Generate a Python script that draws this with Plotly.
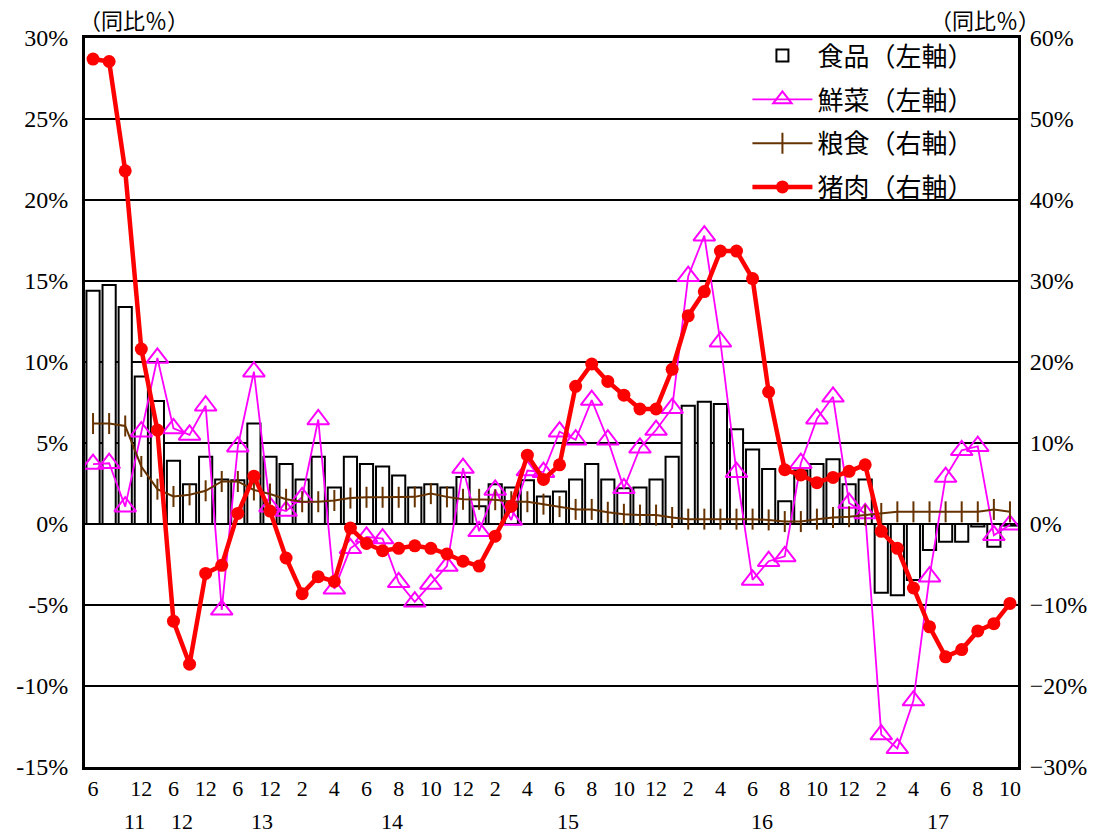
import plotly.graph_objects as go

categories = [
    "2011-06", "2011-08", "2011-10", "2011-12",
    "2012-03", "2012-06", "2012-09", "2012-12",
    "2013-03", "2013-06", "2013-09", "2013-12",
    "2014-01", "2014-02", "2014-03", "2014-04", "2014-05", "2014-06",
    "2014-07", "2014-08", "2014-09", "2014-10", "2014-11", "2014-12",
    "2015-01", "2015-02", "2015-03", "2015-04", "2015-05", "2015-06",
    "2015-07", "2015-08", "2015-09", "2015-10", "2015-11", "2015-12",
    "2016-01", "2016-02", "2016-03", "2016-04", "2016-05", "2016-06",
    "2016-07", "2016-08", "2016-09", "2016-10", "2016-11", "2016-12",
    "2017-01", "2017-02", "2017-03", "2017-04", "2017-05", "2017-06",
    "2017-07", "2017-08", "2017-09", "2017-10",
]

food = [14.4, 14.75, 13.4, 9.1, 7.6, 3.9, 2.45, 4.15, 2.75, 2.7, 6.2, 4.15,
        3.7, 2.75, 4.15, 2.25, 4.15, 3.7, 3.55, 3.0, 2.25, 2.45, 2.25, 2.9,
        1.1, 2.45, 2.25, 2.7, 1.7, 2.0, 2.75, 3.7, 2.75, 2.2, 2.25, 2.75,
        4.15, 7.3, 7.55, 7.4, 5.85, 4.6, 3.4, 1.4, 3.3, 3.7, 4.0, 2.45,
        2.75, -4.25, -4.4, -3.45, -1.6, -1.1, -1.1, -0.15, -1.4, -0.1]

vegetables = [3.7, 3.75, 1.07, 5.7, 10.25, 5.9, 5.5, 7.3, -5.3, 4.77, 9.4, 1.07,
              0.8, 1.65, 6.45, -4.0, -1.5, -0.8, -0.9, -3.6, -4.8, -3.7, -2.6, 3.45,
              -0.45, 2.1, 0.25, 3.3, 3.2, 5.7, 5.2, 7.65, 5.2, 2.2, 4.7, 5.8,
              7.15, 15.3, 17.8, 11.25, 3.2, -3.45, -2.3, -2.0, 3.75, 6.5, 7.85, 1.3,
              0.65, -13.0, -13.85, -10.9, -3.25, 2.9, 4.55, 4.8, -0.7, -0.05]

grain = [12.4, 12.4, 12.1, 7.1, 4.3, 3.4, 3.6, 4.1, 5.25, 5.25, 4.2, 3.7,
         3.05, 2.75, 2.75, 2.9, 3.2, 3.3, 3.3, 3.3, 3.35, 3.75, 3.35, 3.05,
         3.05, 3.0, 2.75, 2.75, 2.45, 2.15, 1.8, 1.8, 1.45, 1.2, 1.1, 1.1,
         0.8, 0.6, 0.6, 0.6, 0.6, 0.6, 0.5, 0.3, 0.3, 0.6, 0.8, 0.9,
         1.1, 1.3, 1.5, 1.5, 1.5, 1.5, 1.5, 1.5, 1.8, 1.5]

pork = [57.4, 57.1, 43.6, 21.6, 11.6, -12.0, -17.3, -6.1, -5.1, 1.3, 5.9, 1.6,
        -4.2, -8.6, -6.5, -7.1, -0.5, -2.4, -3.3, -3.0, -2.7, -3.0, -3.7, -4.6,
        -5.2, -1.5, 2.2, 8.5, 5.5, 7.3, 17.0, 19.75, 17.6, 15.9, 14.2, 14.2,
        19.1, 25.7, 28.7, 33.7, 33.7, 30.3, 16.3, 6.7, 6.05, 5.1, 5.75, 6.5,
        7.3, -0.9, -3.0, -7.9, -12.7, -16.4, -15.5, -13.2, -12.3, -9.8]

series_names = ["食品（左軸）", "鮮菜（左軸）", "粮食（右軸）", "猪肉（右軸）"]

tick_categories = ["2011-06", "2011-12", "2012-06", "2012-12", "2013-06", "2013-12",
                   "2014-02", "2014-04", "2014-06", "2014-08", "2014-10", "2014-12",
                   "2015-02", "2015-04", "2015-06", "2015-08", "2015-10", "2015-12",
                   "2016-02", "2016-04", "2016-06", "2016-08", "2016-10", "2016-12",
                   "2017-02", "2017-04", "2017-06", "2017-08", "2017-10"]
tick_text = ["6", "12", "6", "12", "6", "12",
             "2", "4", "6", "8", "10", "12",
             "2", "4", "6", "8", "10", "12",
             "2", "4", "6", "8", "10", "12",
             "2", "4", "6", "8", "10"]

year_labels = ["11", "12", "13", "14", "15", "16", "17"]
year_label_x = [2.6, 5.5, 10.5, 18.6, 29.5, 41.6, 52.5]

left_ticks = [30, 25, 20, 15, 10, 5, 0, -5, -10, -15]
left_tick_text = ["30%", "25%", "20%", "15%", "10%", "5%", "0%", "-5%", "-10%", "-15%"]
right_ticks = [60, 50, 40, 30, 20, 10, 0, -10, -20, -30]
right_tick_text = ["60%", "50%", "40%", "30%", "20%", "10%", "0%", "−10%", "−20%", "−30%"]

axis_unit_label = "（同比％）"

FONT = "Liberation Serif, Noto Sans CJK JP, serif"

fig = go.Figure()
fig.add_trace(go.Bar(
    x=categories, y=food, name=series_names[0], legendgroup="g1",
    marker=dict(color="white", line=dict(color="black", width=2)),
    yaxis="y",
))
fig.add_trace(go.Scatter(
    x=categories, y=vegetables, name=series_names[1], mode="lines+markers",
    legendgroup="g2",
    line=dict(color="#FF00FF", width=1.8),
    marker=dict(symbol="triangle-up-open", size=19, color="#FF00FF",
                line=dict(color="#FF00FF", width=2)),
    yaxis="y",
))
fig.add_trace(go.Scatter(
    x=categories, y=grain, name=series_names[2], mode="lines+markers",
    legendgroup="g3",
    line=dict(color="#663300", width=2),
    marker=dict(symbol="line-ns-open", size=15, color="#663300",
                line=dict(color="#663300", width=2)),
    yaxis="y2",
))
fig.add_trace(go.Scatter(
    x=categories, y=pork, name=series_names[3], mode="lines+markers",
    legendgroup="g4",
    line=dict(color="#FF0000", width=4.5),
    marker=dict(symbol="circle", size=13, color="#FF0000"),
    yaxis="y2",
))

annotations = []
for lab, xp in zip(year_labels, year_label_x):
    annotations.append(dict(x=xp, y=-0.075, xref="x", yref="paper", text=lab,
                            showarrow=False, xanchor="center", yanchor="middle",
                            font=dict(size=22, family=FONT, color="black")))
annotations.append(dict(x=0.0, y=1.0, xref="paper", yref="paper", text=axis_unit_label,
                        showarrow=False, xanchor="left", yanchor="bottom", xshift=-8, yshift=2,
                        font=dict(size=22, family=FONT, color="black")))
annotations.append(dict(x=1.0, y=1.0, xref="paper", yref="paper", text=axis_unit_label,
                        showarrow=False, xanchor="right", yanchor="bottom", xshift=24, yshift=2,
                        font=dict(size=22, family=FONT, color="black")))

fig.update_layout(
    width=1089, height=826,
    margin=dict(l=77, r=79, t=30, b=67, autoexpand=False),
    paper_bgcolor="white", plot_bgcolor="white",
    bargap=0.18,
    showlegend=True,
    legend=dict(x=0.71, y=1.008, xanchor="left", yanchor="top",
                bgcolor="rgba(0,0,0,0)", borderwidth=0,
                font=dict(size=26, family=FONT, color="black"),
                itemwidth=60, tracegroupgap=7, traceorder="grouped"),
    font=dict(family=FONT, color="black"),
    xaxis=dict(type="category", range=[-0.5, len(categories) - 0.5],
               tickvals=tick_categories, ticktext=tick_text,
               tickfont=dict(size=22, family=FONT, color="black"),
               showgrid=False, showline=True, linecolor="black", linewidth=3,
               mirror=True, ticks="", ticklabelstandoff=0, automargin=False),
    yaxis=dict(range=[-15, 30], tickvals=left_ticks, ticktext=left_tick_text,
               tickfont=dict(size=24, family=FONT, color="black"),
               showgrid=True, gridcolor="black", gridwidth=1.6,
               zeroline=False, showline=True, linecolor="black", linewidth=3,
               ticks="", ticklabelstandoff=9, automargin=False),
    yaxis2=dict(range=[-30, 60], tickvals=right_ticks, ticktext=right_tick_text,
                overlaying="y", side="right",
                tickfont=dict(size=24, family=FONT, color="black"),
                showgrid=False, zeroline=False, showline=True, linecolor="black",
                linewidth=3, ticks="", ticklabelstandoff=4, automargin=False),
    annotations=annotations,
)

fig.write_html("out.html")
